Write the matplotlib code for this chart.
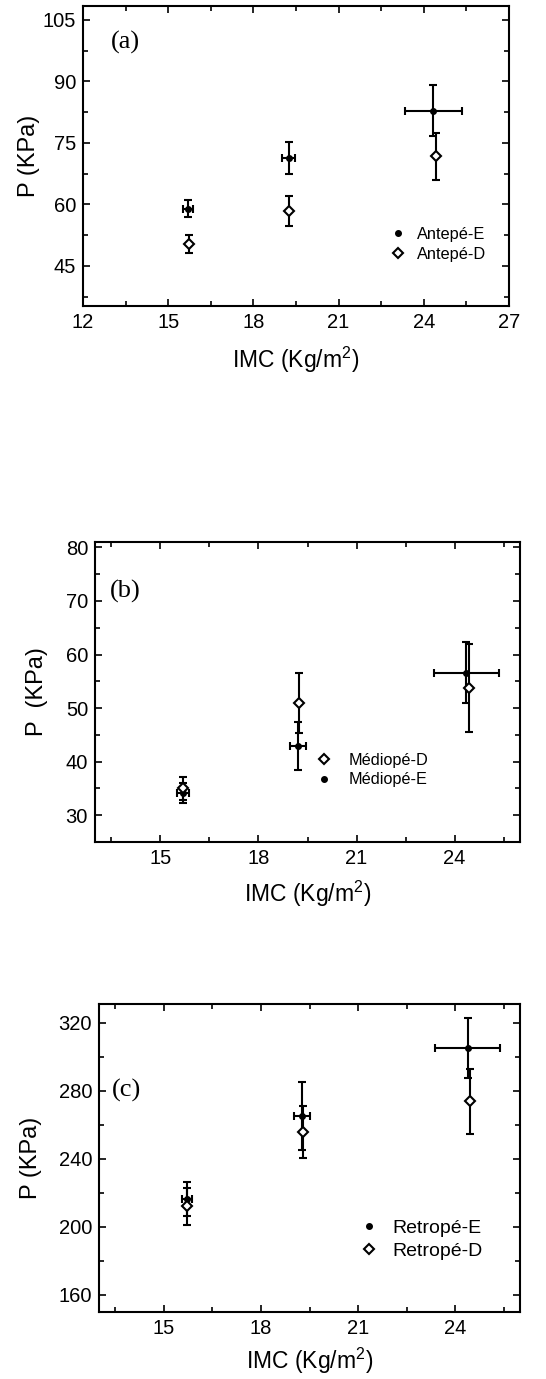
import numpy as np
import matplotlib
matplotlib.use('Agg')
import matplotlib.pyplot as plt
from matplotlib.ticker import MultipleLocator

plt.rcParams['font.family'] = ['Liberation Sans', 'DejaVu Sans']
plt.rcParams['mathtext.fontset'] = 'custom'
plt.rcParams['mathtext.rm'] = 'Liberation Sans'
plt.rcParams['mathtext.it'] = 'Liberation Sans'

W, H = 546, 1379

# panel (a) - Antepe
imc_a_e = [15.70, 19.24, 24.33]
imc_a_e_err = [0.18, 0.23, 1.0]
p_a_e = [58.9, 71.2, 82.9]
p_a_e_err = [2.1, 3.9, 6.2]
imc_a_d = [15.72, 19.26, 24.42]
p_a_d = [50.4, 58.4, 71.7]
p_a_d_err = [2.2, 3.6, 5.8]

# panel (b) - Mediope
imc_b_e = [15.68, 19.20, 24.36]
imc_b_e_err = [0.18, 0.24, 1.0]
p_b_e = [34.2, 42.9, 56.6]
p_b_e_err = [1.9, 4.5, 5.7]
imc_b_d = [15.68, 19.24, 24.45]
p_b_d = [35.0, 51.0, 53.8]
p_b_d_err = [2.2, 5.6, 8.2]

# panel (c) - Retrope
imc_c_e = [15.72, 19.26, 24.39]
imc_c_e_err = [0.15, 0.245, 1.0]
p_c_e = [216.4, 265.4, 305.1]
p_c_e_err = [10.0, 20.0, 17.7]
imc_c_d = [15.73, 19.30, 24.46]
p_c_d = [212.0, 255.9, 273.8]
p_c_d_err = [11.0, 15.3, 19.0]


def px_axes(fig, left, right, top, bottom):
    return fig.add_axes([left / W, 1 - bottom / H, (right - left) / W, (bottom - top) / H])


def style(ax, xlim, ylim, xmaj, xmin, ymaj, ymin):
    ax.set_xlim(*xlim)
    ax.set_ylim(*ylim)
    ax.xaxis.set_major_locator(MultipleLocator(xmaj))
    ax.xaxis.set_minor_locator(MultipleLocator(xmin))
    ax.yaxis.set_major_locator(MultipleLocator(ymaj))
    ax.yaxis.set_minor_locator(MultipleLocator(ymin))
    for s in ax.spines.values():
        s.set_linewidth(1.5)
    ax.tick_params(which='both', direction='in', top=True, right=True,
                   labelsize=14.5, width=1.2, pad=5)
    ax.tick_params(which='major', length=5)
    ax.tick_params(which='minor', length=3.5)


def draw(ax, xe, xee, ye, yee, xd, yd, yde, lab_e, lab_d, e_first, legsize, legpos, tpad=0.6):
    ax.errorbar(xe, ye, xerr=xee, yerr=yee, fmt='none', ecolor='black',
                elinewidth=1.5, capsize=3, capthick=1.5)
    ax.errorbar(xd, yd, yerr=yde, fmt='none', ecolor='black',
                elinewidth=1.5, capsize=3, capthick=1.5)
    he, = ax.plot(xe, ye, 'o', color='black', markersize=4, linestyle='none', label=lab_e, zorder=5)
    hd, = ax.plot(xd, yd, 'D', markerfacecolor='white', markeredgecolor='black',
                  markersize=5.5, markeredgewidth=1.5, linestyle='none', label=lab_d, zorder=6)
    handles = [he, hd] if e_first else [hd, he]
    ax.legend(handles=handles, loc='center left', bbox_to_anchor=legpos, frameon=False,
              fontsize=legsize, handletextpad=tpad, handlelength=1.2, labelspacing=0.3,
              borderaxespad=0)


fig = plt.figure(figsize=(W / 100, H / 100), dpi=100)
xlab = 'IMC (Kg/m$^{2}$)'

# (a)
ax = px_axes(fig, 83, 509, 6, 306)
style(ax, (12, 27), (35.2, 108.4), 3, 1.5, 15, 7.5)
draw(ax, imc_a_e, imc_a_e_err, p_a_e, p_a_e_err, imc_a_d, p_a_d, p_a_d_err,
     'Antepé-E', 'Antepé-D', True, 11.8, (0.70, 0.205))
ax.set_xlabel(xlab, fontsize=16.5, labelpad=9)
ax.set_ylabel('P (KPa)', fontsize=17, labelpad=2)
ax.text(0.065, 0.88, '(a)', transform=ax.transAxes, fontsize=19, family='Liberation Serif',
        va='center')

# (b)
ax = px_axes(fig, 95, 520, 542, 842)
style(ax, (13, 26), (25, 81), 3, 1.5, 10, 5)
draw(ax, imc_b_e, imc_b_e_err, p_b_e, p_b_e_err, imc_b_d, p_b_d, p_b_d_err,
     'Médiopé-E', 'Médiopé-D', False, 11.7, (0.50, 0.24), tpad=0.9)
ax.set_xlabel(xlab, fontsize=16.5, labelpad=8)
ax.set_ylabel('P  (KPa)', fontsize=17, labelpad=13)
ax.text(0.035, 0.835, '(b)', transform=ax.transAxes, fontsize=19, family='Liberation Serif',
        va='center')

# (c)
ax = px_axes(fig, 99, 520, 1004, 1312)
style(ax, (13, 26), (150, 331), 3, 1.5, 40, 20)
draw(ax, imc_c_e, imc_c_e_err, p_c_e, p_c_e_err, imc_c_d, p_c_d, p_c_d_err,
     'Retropé-E', 'Retropé-D', True, 14, (0.595, 0.235))
ax.set_xlabel(xlab, fontsize=16.5, labelpad=6)
ax.set_ylabel('P (KPa)', fontsize=17, labelpad=12)
ax.text(0.03, 0.72, '(c)', transform=ax.transAxes, fontsize=19, family='Liberation Serif',
        va='center')

fig.savefig('out.png', dpi=100)
